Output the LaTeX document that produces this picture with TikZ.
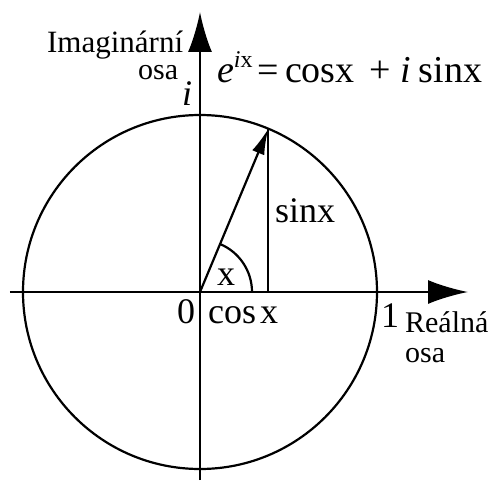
\documentclass[tikz,border=0pt]{standalone}
\usepackage{fontspec}
\setmainfont{Liberation Serif}
\usetikzlibrary{calc,arrows.meta}

\begin{document}
\begin{tikzpicture}[x=1pt,y=1pt,line width=2.2pt,>={Latex[length=40pt,width=24pt]},
	small/.style={inner sep=0pt,anchor=base west,font=\fontsize{30}{33}\selectfont},
	big/.style={inner sep=0pt,anchor=base west,font=\fontsize{36}{38}\selectfont}]
			\useasboundingbox (-200,-188) rectangle (290,292);
			\def\r{177}
			\def\t{67.3}
			
			\coordinate (O) at (0,0);
			\coordinate (P) at (\t:\r);
			\coordinate (C) at (P |- O);
			\coordinate (Xl) at (-190,0);
			\coordinate (Xr) at (268,0);
			\coordinate (Yd) at (0,-188);
			\coordinate (Yu) at (0,280);
			
			\draw (O) circle (\r);
			\draw[->] (Xl)--(Xr);
			\draw[->] (Yd)--(Yu);
			
			\draw[-{Latex[length=26pt,width=13pt]}] (O)--(P);
			\draw (C)--(P);
			\draw (52,0) arc (0:\t:52);
			
			\node[small,font=\fontsize{31}{33}\selectfont] (imag) at (-154,240) {Imaginární};
			\node[small] (imagosa) at (-63,212) {osa};
			\node[big] (ii) at (-19,187) {\textit{i}};
			\node[big,font=\fontsize{38}{40}\selectfont] (euler) at (16,209)
				{\textit{e}\raisebox{16pt}{\fontsize{24}{24}\selectfont\textit{i}x}\hspace{5pt}=\hspace{6pt}cosx\hspace{15pt}+\hspace{9pt}\textit{i}\hspace{8pt}sinx};
			\node[big] (sinx) at (74,70) {sinx};
			\node[big] (ang) at (16,7) {x};
			\node[big] (zero) at (-24,-31) {0};
			\node[big] (cosx) at (7,-31) {cos\hspace{4pt}x};
			\node[big] (one) at (180,-35) {1};
			\node[small] (real) at (204,-40) {Reálná};
			\node[small] (realosa) at (204,-70) {osa};
		\end{tikzpicture}
\end{document}
